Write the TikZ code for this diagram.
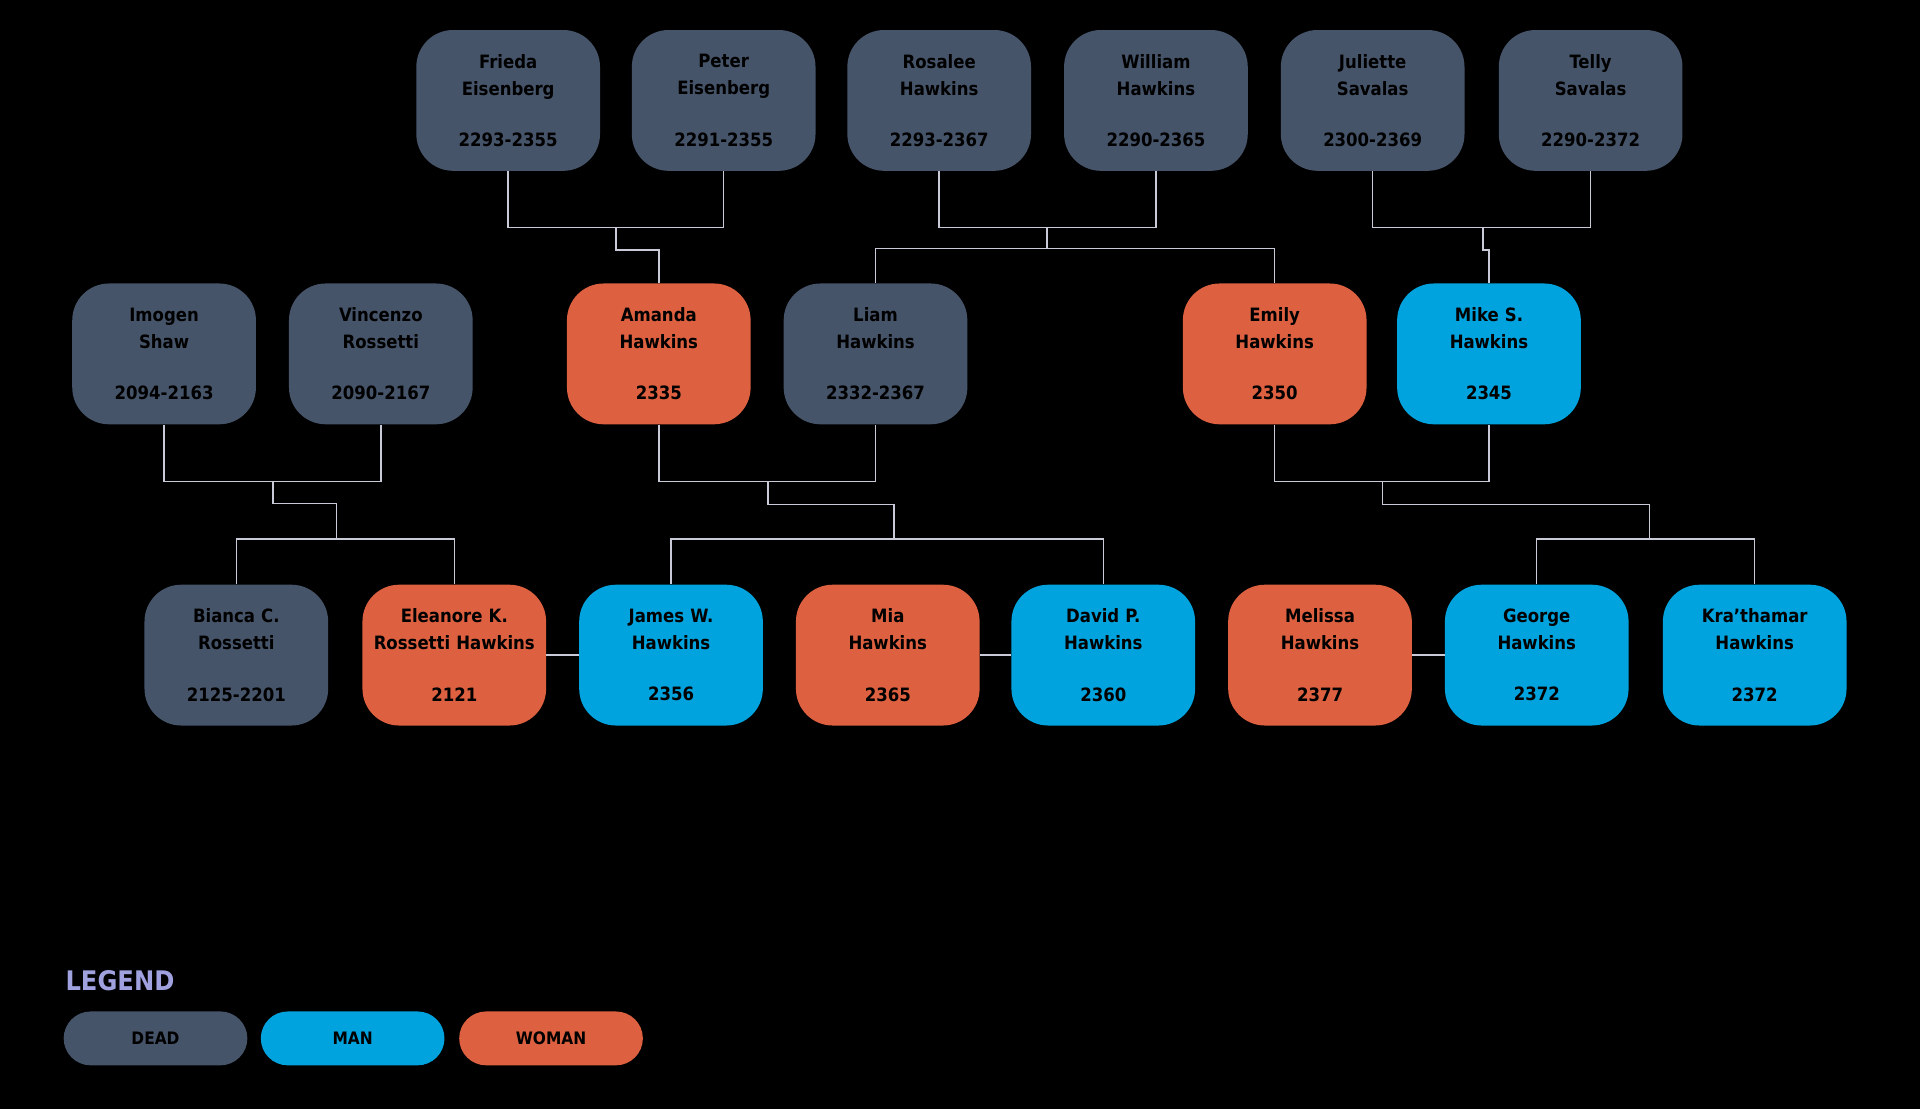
\documentclass[tikz,border=0pt]{standalone}
\usepackage{fontspec}
\setmainfont{DejaVu Sans Condensed}
\definecolor{dead}{HTML}{46546A}
\definecolor{man}{HTML}{00A3DD}
\definecolor{woman}{HTML}{DD6040}
\definecolor{wire}{HTML}{C8CAD8}
\tikzset{
  person/.style={rounded corners=30pt, minimum width=150pt, minimum height=115pt,
    text width=140pt, align=center, font=\fontsize{15}{22}\selectfont\bfseries, text=black},
  dead/.style={person, fill=dead},
  man/.style={person, fill=man},
  woman/.style={person, fill=woman},
  pill/.style={rounded corners=22pt, minimum width=150pt, minimum height=44pt,
    font=\fontsize{14}{16}\selectfont\bfseries, text=black},
  wire/.style={draw=wire, line width=1.2pt}
}
\newcommand{\who}[3]{#1\\#2\\[20pt]#3}
\begin{document}
\begin{tikzpicture}[x=1pt,y=-1pt]

\fill [black] (0,0) rectangle (1568,906);
\useasboundingbox (0,0) rectangle (1568,906);

% grandparents
\node [dead] (frieda) at (415,82) {\who{Frieda}{Eisenberg}{2293-2355}};
\node [dead] (peter) at (591,82) {\who{Peter}{Eisenberg}{2291-2355}};
\node [dead] (rosalee) at (767,82) {\who{Rosalee}{Hawkins}{2293-2367}};
\node [dead] (william) at (944,82) {\who{William}{Hawkins}{2290-2365}};
\node [dead] (juliette) at (1121,82) {\who{Juliette}{Savalas}{2300-2369}};
\node [dead] (telly) at (1299,82) {\who{Telly}{Savalas}{2290-2372}};

% parents
\node [dead] (imogen) at (134,289) {\who{Imogen}{Shaw}{2094-2163}};
\node [dead] (vincenzo) at (311,289) {\who{Vincenzo}{Rossetti}{2090-2167}};
\node [woman] (amanda) at (538,289) {\who{Amanda}{Hawkins}{2335}};
\node [dead] (liam) at (715,289) {\who{Liam}{Hawkins}{2332-2367}};
\node [woman] (emily) at (1041,289) {\who{Emily}{Hawkins}{2350}};
\node [man] (mike) at (1216,289) {\who{Mike S.}{Hawkins}{2345}};

% children
\node [dead] (bianca) at (193,535) {\who{Bianca C.}{Rossetti}{2125-2201}};
\node [woman] (eleanore) at (371,535) {\who{Eleanore K.}{Rossetti Hawkins}{2121}};
\node [man] (james) at (548,535) {\who{James W.}{Hawkins}{2356}};
\node [woman] (mia) at (725,535) {\who{Mia}{Hawkins}{2365}};
\node [man] (david) at (901,535) {\who{David P.}{Hawkins}{2360}};
\node [woman] (melissa) at (1078,535) {\who{Melissa}{Hawkins}{2377}};
\node [man] (george) at (1255,535) {\who{George}{Hawkins}{2372}};
\node [man] (krat) at (1433,535) {\who{Kra'thamar}{Hawkins}{2372}};

% couples and children
\coordinate (fp) at (503,186);
\draw [wire] (frieda.south) |- (fp) -| (peter.south);
\draw [wire] (fp) -- (503,204) -| (amanda.north);

\coordinate (rw) at (855,186);
\draw [wire] (rosalee.south) |- (rw) -| (william.south);
\draw [wire] (rw) -- (855,203);
\draw [wire] (liam.north) |- (855,203) -| (emily.north);

\coordinate (jt) at (1211,186);
\draw [wire] (juliette.south) |- (jt) -| (telly.south);
\draw [wire] (jt) -- (1211,204) -| (mike.north);

\coordinate (iv) at (223,393);
\draw [wire] (imogen.south) |- (iv) -| (vincenzo.south);
\draw [wire] (iv) -- (223,411) -| (275,440);
\draw [wire] (bianca.north) |- (275,440) -| (eleanore.north);

\coordinate (al) at (627,393);
\draw [wire] (amanda.south) |- (al) -| (liam.south);
\draw [wire] (al) -- (627,412) -| (730,440);
\draw [wire] (james.north) |- (730,440) -| (david.north);

\coordinate (em) at (1129,393);
\draw [wire] (emily.south) |- (em) -| (mike.south);
\draw [wire] (em) -- (1129,412) -| (1347,440);
\draw [wire] (george.north) |- (1347,440) -| (krat.north);

\draw [wire] (eleanore.east) -- (james.west);
\draw [wire] (mia.east) -- (david.west);
\draw [wire] (melissa.east) -- (george.west);

% legend
\node [anchor=west, text=wire!80!blue, font=\fontsize{22}{24}\selectfont\bfseries] (legend) at (50,801) {LEGEND};
\node [pill, fill=dead] (kdead) at (127,848) {DEAD};
\node [pill, fill=man] (kman) at (288,848) {MAN};
\node [pill, fill=woman] (kwoman) at (450,848) {WOMAN};

\end{tikzpicture}
\end{document}
